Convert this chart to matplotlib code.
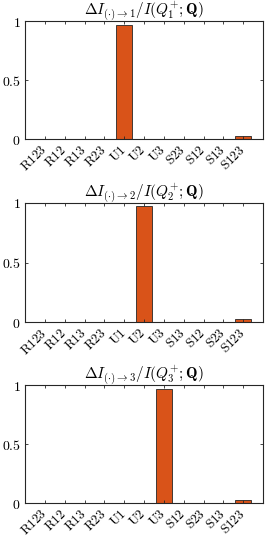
import matplotlib
matplotlib.use("Agg")
import matplotlib.pyplot as plt
import numpy as np

plt.rcParams['mathtext.fontset'] = 'cm'
plt.rcParams['font.family'] = 'serif'

# tick labels for each panel
labels1 = ['R123', 'R12', 'R13', 'R23', 'U1', 'U2', 'U3', 'S23', 'S12', 'S13', 'S123']
labels2 = ['R123', 'R12', 'R13', 'R23', 'U1', 'U2', 'U3', 'S13', 'S12', 'S23', 'S123']
labels3 = ['R123', 'R12', 'R13', 'R23', 'U1', 'U2', 'U3', 'S12', 'S23', 'S13', 'S123']

# normalised values
vals1 = [0, 0, 0, 0, 0.97, 0, 0, 0, 0, 0, 0.025]
vals2 = [0, 0, 0, 0, 0, 0.97, 0, 0, 0, 0, 0.025]
vals3 = [0, 0, 0, 0, 0, 0, 0.97, 0, 0, 0, 0.025]

titles = [r'$\Delta I_{(\cdot)\to 1}/I(Q_1^{+};\mathbf{Q})$',
          r'$\Delta I_{(\cdot)\to 2}/I(Q_2^{+};\mathbf{Q})$',
          r'$\Delta I_{(\cdot)\to 3}/I(Q_3^{+};\mathbf{Q})$']

fig = plt.figure(figsize=(2.66, 5.42), dpi=100)

# [left, bottom, width, height] in figure fractions
boxes = [[0.094, 0.743, 0.895, 0.218],
         [0.094, 0.405, 0.895, 0.221],
         [0.094, 0.0714, 0.895, 0.218]]

edge = '#262626'
for box, labs, vals, title in zip(boxes, [labels1, labels2, labels3],
                                  [vals1, vals2, vals3], titles):
    ax = fig.add_axes(box)
    x = np.arange(1, len(labs) + 1)
    ax.bar(x, vals, width=0.8, color='#D95319', edgecolor=edge, linewidth=0.6, zorder=1)
    ax.set_xlim(0, 12)
    ax.set_ylim(0, 1)
    ax.set_xticks(x)
    ax.set_xticklabels([r'$\mathrm{%s}$' % l for l in labs], rotation=45,
                       ha='right', va='center', rotation_mode='anchor', fontsize=9.5)
    ax.set_yticks([0, 0.5, 1])
    ax.set_yticklabels(['$0$', '$0.5$', '$1$'], fontsize=10)
    ax.tick_params(direction='in', length=2.5, width=0.6, color=edge,
                   top=True, right=True, pad=3)
    ax.tick_params(axis='x', pad=6)
    for s in ax.spines.values():
        s.set_color(edge)
        s.set_linewidth(0.8)
        s.set_zorder(3)
    ax.set_axisbelow(False)
    ax.set_title(title, fontsize=11, pad=4)

fig.savefig('out.png', dpi=100)
